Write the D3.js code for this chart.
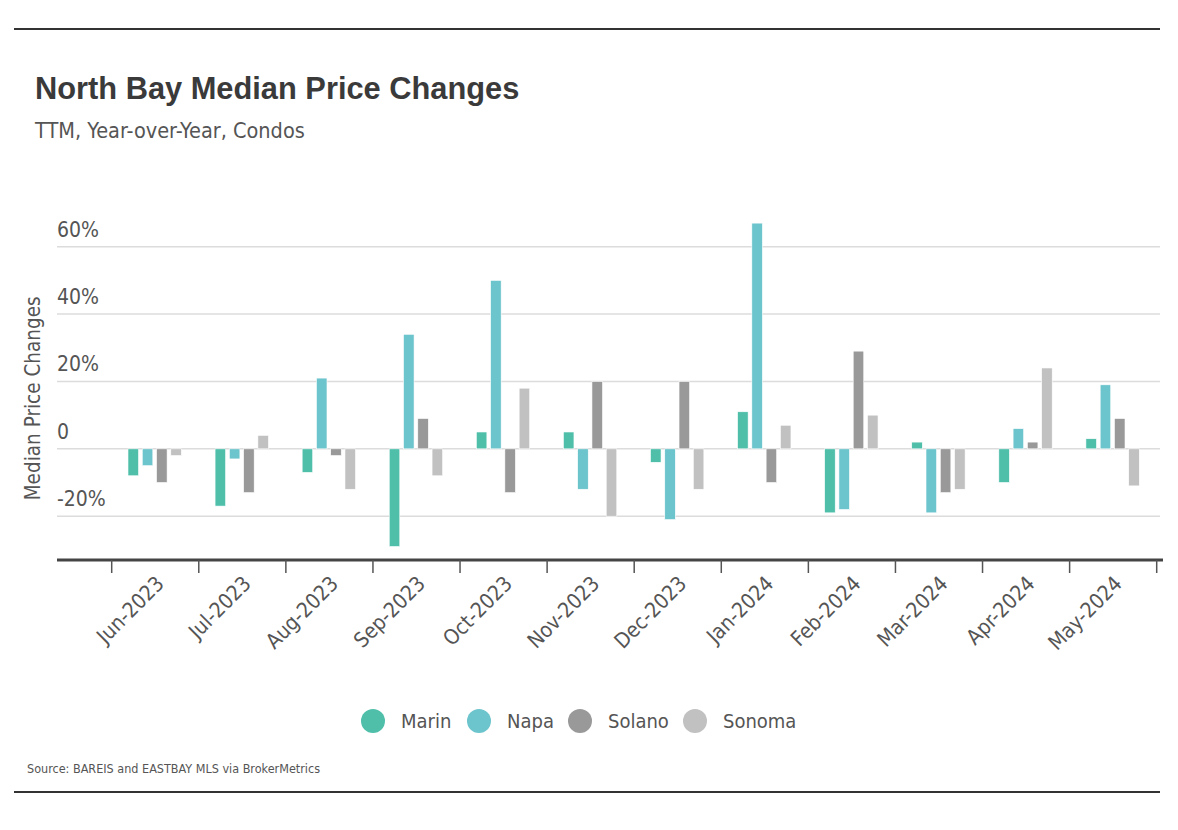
<!DOCTYPE html>
<meta charset="utf-8">
<script src="https://d3js.org/d3.v7.min.js"></script>
<style>
  body { margin: 0; background: #fff; }
  text { font-family: "Liberation Sans Narrow", "DejaVu Sans Condensed", sans-serif; }
</style>
<div id="chart"></div>
<script>
// data
var months = ["Jun-2023", "Jul-2023", "Aug-2023", "Sep-2023", "Oct-2023", "Nov-2023",
              "Dec-2023", "Jan-2024", "Feb-2024", "Mar-2024", "Apr-2024", "May-2024"];
var series = ["Marin", "Napa", "Solano", "Sonoma"];
var marin  = [-8, -17, -7, -29, 5, 5, -4, 11, -19, 2, -10, 3];
var napa   = [-5, -3, 21, 34, 50, -12, -21, 67, -18, -19, 6, 19];
var solano = [-10, -13, -2, 9, -13, 20, 20, -10, 29, -13, 2, 9];
var sonoma = [-2, 4, -12, -8, 18, -20, -12, 7, 10, -12, 24, -11];
var yTicks = [-20, 0, 20, 40, 60];
var colors = ["#4fbfaa", "#6cc4cc", "#999999", "#c1c1c1"];

var values = [marin, napa, solano, sonoma];

var W = 1178, H = 830;
var svg = d3.select("#chart").append("svg")
    .attr("width", W)
    .attr("height", H);

// top and bottom rules
svg.append("line").attr("x1", 14).attr("x2", 1160).attr("y1", 29).attr("y2", 29)
    .attr("stroke", "#333").attr("stroke-width", 2);
svg.append("line").attr("x1", 14).attr("x2", 1160).attr("y1", 792).attr("y2", 792)
    .attr("stroke", "#333").attr("stroke-width", 2);

// Title
svg.append("text")
    .attr("x", 35).attr("y", 99)
    .style("font-family", "'Liberation Sans', sans-serif")
    .style("font-size", "30.8px")
    .style("font-weight", "bold")
    .style("fill", "#3a3a3a")
    .text("North Bay Median Price Changes");
svg.append("text")
    .attr("x", 35).attr("y", 138)
    .style("font-size", "21.5px")
    .style("fill", "#555")
    .text("TTM, Year-over-Year, Condos");

// scales
var left = 57, right = 1160;
var x0 = d3.scaleBand()
    .domain(months)
    .range([111.7, 1156.7]);
var x1 = d3.scaleBand()
    .domain(series)
    .range([x0.bandwidth() * 0.187, x0.bandwidth() * 0.8])
    .paddingInner(0.26);
var y = d3.scaleLinear()
    .domain([-33, 60])
    .range([560, 246.7]);

// gridlines
svg.append("g").selectAll("line")
  .data(yTicks)
  .enter()
  .append("line")
    .attr("x1", left).attr("x2", right)
    .attr("y1", function(d) { return y(d); })
    .attr("y2", function(d) { return y(d); })
    .attr("stroke", "#dcdcdc")
    .attr("stroke-width", 1.5);

// y tick labels sit above the gridlines
svg.append("g").selectAll("text")
  .data(yTicks)
  .enter()
  .append("text")
    .attr("x", left)
    .attr("y", function(d) { return y(d) - 10; })
    .style("font-size", "21px")
    .style("fill", "#555")
    .text(function(d) { return d === 0 ? "0" : d + "%"; });

// y axis title
svg.append("text")
    .attr("transform", "translate(40," + y(15) + ")rotate(-90)")
    .attr("text-anchor", "middle")
    .style("font-size", "20.5px")
    .style("fill", "#555")
    .text("Median Price Changes");

// Bars
var groups = svg.append("g").selectAll("g")
  .data(months)
  .enter()
  .append("g")
    .attr("transform", function(d) { return "translate(" + x0(d) + ",0)"; });

groups.selectAll("rect")
  .data(function(m, i) { return series.map(function(s, j) { return {s: s, v: values[j][i], c: colors[j]}; }); })
  .enter()
  .append("rect")
    .attr("x", function(d) { return x1(d.s); })
    .attr("y", function(d) { return y(Math.max(0, d.v)); })
    .attr("width", x1.bandwidth())
    .attr("height", function(d) { return Math.abs(y(d.v) - y(0)); })
    .attr("fill", function(d) { return d.c; })
    .attr("stroke", "#fff")
    .attr("stroke-width", 0.6);

// X axis
var xAxis = svg.append("g")
    .attr("transform", "translate(0," + y(-33) + ")");
xAxis.append("line")
    .attr("x1", left).attr("x2", 1163)
    .attr("stroke", "#444").attr("stroke-width", 3);
var tickPos = months.map(function(m) { return x0(m); }).concat([x0.range()[1]]);
xAxis.selectAll("line.tick")
  .data(tickPos)
  .enter()
  .append("line")
    .attr("class", "tick")
    .attr("x1", function(d) { return d; }).attr("x2", function(d) { return d; })
    .attr("y1", 0).attr("y2", 13)
    .attr("stroke", "#555").attr("stroke-width", 1.5);
xAxis.selectAll("text")
  .data(months)
  .enter()
  .append("text")
    .attr("transform", function(d) {
      return "translate(" + (x0(d) + x0.bandwidth() / 2 + 10) + ",25)rotate(-45)";
    })
    .attr("text-anchor", "end")
    .style("font-size", "21px")
    .style("fill", "#555")
    .text(function(d) { return d; });

// Legend
var legendX = [373, 479, 580, 695];
var legend = svg.append("g").selectAll("g")
  .data(series)
  .enter()
  .append("g")
    .attr("transform", function(d, i) { return "translate(" + legendX[i] + ",721)"; });
legend.append("circle")
    .attr("r", 12)
    .attr("fill", function(d, i) { return colors[i]; });
legend.append("text")
    .attr("x", 28)
    .attr("dy", "0.35em")
    .style("font-size", "20px")
    .style("fill", "#555")
    .text(function(d) { return d; });

// Source
svg.append("text")
    .attr("x", 27).attr("y", 773)
    .style("font-size", "12.5px")
    .style("fill", "#555")
    .text("Source:  BAREIS and EASTBAY MLS via BrokerMetrics");
</script>
